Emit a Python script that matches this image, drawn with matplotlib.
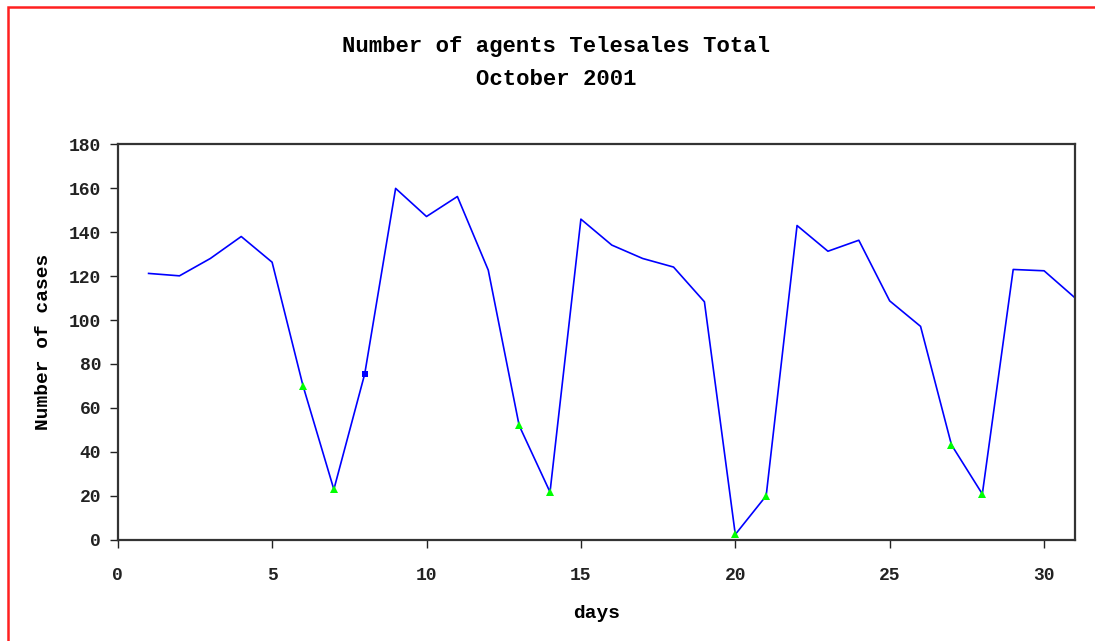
import numpy as np
import matplotlib.pyplot as plt
from matplotlib.patches import Rectangle

# October 2001, agents per day
days = list(range(1, 32))
agents = [121.2, 120.1, 128.0, 138.0, 126.3, 70.1, 22.9, 75.5, 159.9, 147.1,
          156.2, 122.7, 52.0, 21.7, 145.9, 134.1, 128.0, 124.1, 108.3, 2.4,
          20.0, 143.0, 131.3, 136.3, 108.7, 97.1, 43.2, 20.8, 123.0, 122.4,
          110.1]
weekend_days = [6, 7, 13, 14, 20, 21, 27, 28]
marked_day = [8]

title = "Number of agents Telesales Total\nOctober 2001"
xticks = [0, 5, 10, 15, 20, 25, 30]
yticks = list(range(0, 181, 20))

plt.rcParams['font.family'] = ['Liberation Mono', 'DejaVu Sans Mono']
plt.rcParams['font.weight'] = 'bold'

fig = plt.figure(figsize=(10.95, 6.41), dpi=100)
ax = fig.add_axes([0.1075, 0.158, 0.8742, 0.617])

ax.plot(days, agents, color='#0000ff', lw=1.2, zorder=2)
lookup = dict(zip(days, agents))
ax.plot(weekend_days, [lookup[d] for d in weekend_days], '^', color='#00ff00',
        markersize=6, markeredgewidth=0, zorder=3)
ax.plot(marked_day, [lookup[d] for d in marked_day], 's', color='#0000ff',
        markersize=4.5, markeredgewidth=0, zorder=3)

ax.set_xlim(0, 31)
ax.set_ylim(0, 180)
ax.set_xticks(xticks)
ax.set_yticks(yticks)
ax.tick_params(direction='out', length=6, width=1, colors='#222222',
               labelsize=13, pad=14)
ax.tick_params(axis='y', pad=6)
for lab in ax.get_xticklabels() + ax.get_yticklabels():
    lab.set_fontweight('bold')
for sp in ax.spines.values():
    sp.set_color('#333333')
    sp.set_linewidth(1.6)

ax.set_title(title, fontsize=16, fontweight='bold', pad=43, linespacing=1.7,
             x=0.458)
ax.set_xlabel('days', fontsize=14, fontweight='bold', labelpad=15)
ax.set_ylabel('Number of cases', fontsize=14, fontweight='bold', labelpad=12)

# red frame round the chart
fig.patches.append(Rectangle((8 / 1095, -0.1), 1.2, 1 - 7 / 641 + 0.1,
                             transform=fig.transFigure, fill=False,
                             edgecolor='#ff2020', lw=1.8))

fig.savefig('out.png', dpi=100)
